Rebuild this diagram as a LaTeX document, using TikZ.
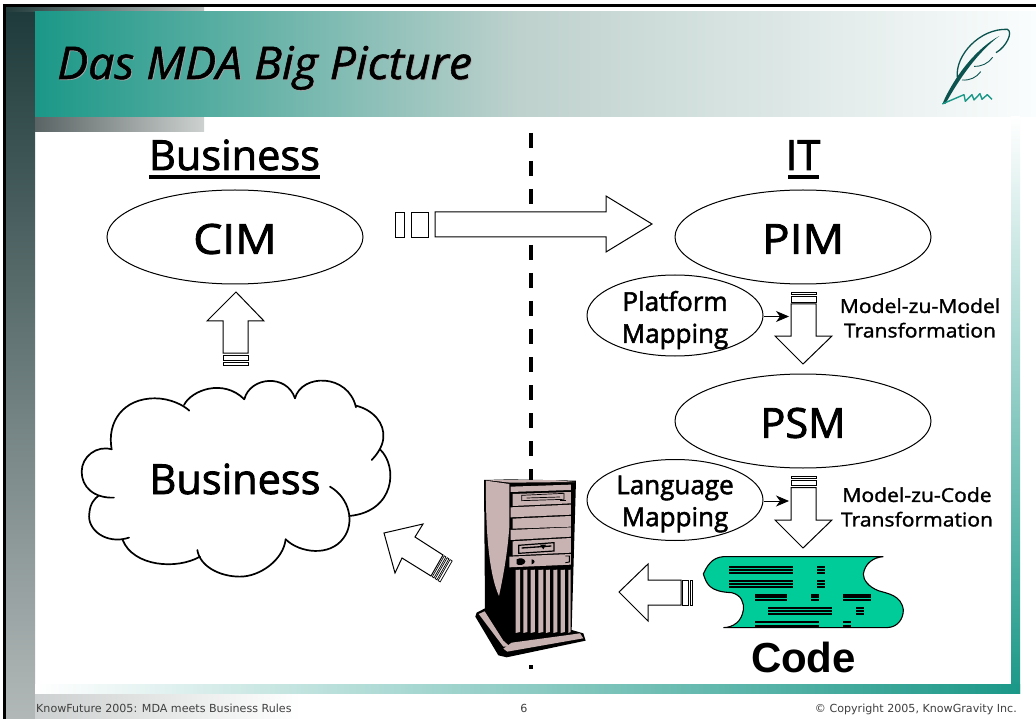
\documentclass[tikz,border=0pt]{standalone}
\usepackage{fontspec}
\usetikzlibrary{arrows.meta,calc,shapes.geometric}
\setmainfont{Liberation Sans}
\newfontfamily\lucida[FakeBold=1.2,FakeStretch=1.03]{Open Sans}
\newfontfamily\lucidab[FakeBold=2]{Open Sans}
\newfontfamily\lucidaw[FakeBold=2,FakeStretch=1.11]{Open Sans}
\newfontfamily\lucidam[FakeBold=1.5,FakeStretch=1.1]{Open Sans}
\newfontfamily\foot{DejaVu Sans}
\definecolor{teal1}{RGB}{27,152,136}
\definecolor{pinkish}{RGB}{201,178,178}
\definecolor{codegreen}{RGB}{0,204,153}
\definecolor{quill}{RGB}{12,82,78}
\tikzset{
  x=1pt,y=-1pt,
  blockarrow/.style={draw=black,fill=white,line width=1pt,line join=miter},
  stripe/.style={draw=black,fill=white,line width=.9pt},
  oval/.style={ellipse,draw=black,fill=white,line width=1pt,inner sep=0pt,minimum width=#1},
  oval/.default=256pt,
  bigoval/.style={oval=256pt,minimum height=94pt},
  smalloval/.style={oval=176pt,minimum height=81pt},
  bigtext/.style={font=\lucidab\fontsize{41.5}{41.5}\selectfont,inner sep=0pt},
  widetext/.style={font=\lucidaw\fontsize{41.5}{41.5}\selectfont,inner sep=0pt},
  midtext/.style={font=\lucidab\fontsize{26}{32}\selectfont,inner sep=0pt,align=center},
  transtext/.style={font=\lucidam\fontsize{19.2}{24.5}\selectfont,inner sep=0pt,align=center},
  foottext/.style={font=\foot\fontsize{11.1}{12}\selectfont,text=black!75,inner sep=0pt},
  cloudline/.style={line width=1.7pt,line cap=round},
  smallarrow/.style={line width=.8pt,-{Stealth[length=13pt,width=11pt,inset=4pt]}},
  serverpink/.style={fill=pinkish,draw=none},
  codebar/.style={line width=2pt,black}
}
\begin{document}
\begin{tikzpicture}
\useasboundingbox (0,0) rectangle (1036,719);
\fill[white] (0,0) rectangle (1036,719);
% left bar
\shade[top color={rgb,255:red,30;green,58;blue,58},bottom color={rgb,255:red,178;green,184;blue,184}] (6,7) rectangle (35,719);
% top strip and lower strip
\shade[left color={rgb,255:red,35;green,60;blue,60},right color={rgb,255:red,190;green,196;blue,194}] (6,7) rectangle (204,12);
\shade[left color={rgb,255:red,90;green,100;blue,100},right color={rgb,255:red,205;green,210;blue,208}] (35,117) rectangle (204,132);
% footer
\shade[left color={rgb,255:red,205;green,208;blue,208},right color=white] (35,693) rectangle (300,719);
% header in two parts
\shade[left color=teal1,right color={rgb,255:red,190;green,209;blue,205}] (35,12) rectangle (520,117);
\shade[left color={rgb,255:red,190;green,209;blue,205},right color={rgb,255:red,250;green,253;blue,253}] (520,12) rectangle (1036,117);
% right and bottom bars
\shade[top color=white,bottom color=teal1] (1011,117) rectangle (1020,693);
\shade[left color=white,right color=teal1] (35,684) rectangle (1020,693);
% black lines
\fill[black] (3,4) rectangle (1036,7);
\fill[black] (3,4) rectangle (6,719);
% title
\node[font=\lucida\itshape\fontsize{45}{45}\selectfont,text=black!35,anchor=base west,inner sep=0pt] (titleshadow) at (57.8,79.8) {Das MDA Big Picture};
\node[font=\lucida\itshape\fontsize{45}{45}\selectfont,anchor=base west,inner sep=0pt] (title) at (57,79) {Das MDA Big Picture};
% quill
\begin{scope}[shift={(900,0)},x=.3333pt,y=-.3333pt]
\fill[quill] (127,312) .. controls (165,225) and (230,145) .. (298,108) .. controls (235,155) and (178,235) .. (136,312) -- cycle;
\draw[quill,line width=1.3pt] (172,232) .. controls (165,165) and (240,85) .. (322,88) .. controls (340,95) and (320,140) .. (288,158);
\draw[quill,line width=.9pt] (222,199) .. controls (245,200) and (265,190) .. (278,172);
\draw[quill,line width=.9pt] (186,240) .. controls (210,242) and (230,232) .. (242,215);
\draw[teal1,line width=1.4pt,line join=round] (127,312) -- (192,284) -- (196,304) -- (216,284) -- (222,300) -- (240,281) -- (246,298) -- (262,284) -- (276,298);
\end{scope}
% divider
\draw[black,line width=3.6pt,dash pattern=on 15pt off 13pt] (531,133) -- (531,669);
% headings
\node[bigtext,anchor=base] (bizhead) at (234.5,170) {Business};
\fill[black] (149,175) rectangle (320,179);
\node[bigtext,anchor=base] (ithead) at (803,170) {IT};
\fill[black] (788,175) rectangle (819,179);
% ellipses
\node[bigoval] (cim) at (235,237) {};
\node[widetext] (cimt) at (235,239) {CIM};
\node[bigoval] (pim) at (803,237) {};
\node[widetext] (pimt) at (803,239) {PIM};
\node[bigoval] (psm) at (803,421) {};
\node[bigtext] (psmt) at (803,423) {PSM};
\node[smalloval] (plat) at (675,315.5) {};
\node[midtext] (platt) at (675,320) {Platform\\Mapping};
\node[smalloval] (lang) at (675,500) {};
\node[midtext] (langt) at (675,504) {Language\\Mapping};
% transformation labels
\node[transtext] (m2m) at (920,318) {Model-zu-Model\\Transformation};
\node[transtext] (m2c) at (917,507) {Model-zu-Code\\Transformation};
% small arrows
\coordinate (platend) at (789,316.5);
\coordinate (langend) at (789,501);
\draw[smallarrow] (plat.east |- platend) -- (platend);
\draw[smallarrow] (lang.east |- langend) -- (langend);
% big right arrow
\draw[stripe] (395,212) rectangle (404,237);
\draw[stripe] (411,212) rectangle (428,237);
\draw[blockarrow] (435,212) -- (606,212) -- (606,196) -- (652,224) -- (606,252) -- (606,237) -- (435,237) -- cycle;
% up arrow
\draw[blockarrow] (223,353) -- (223,321) -- (207,321) -- (236,292) -- (264,321) -- (248,321) -- (248,353) -- cycle;
\draw[stripe] (223,355) rectangle (248,360);
\draw[stripe] (223,362) rectangle (248,365);
% platform arrow
\draw[stripe] (791,292) rectangle (816,294.3);
\draw[stripe] (791,296) rectangle (816,302);
\draw[blockarrow] (791,304) -- (791,336) -- (775,336) -- (803,364) -- (832,336) -- (816,336) -- (816,304) -- cycle;
% language arrow
\draw[stripe] (791,476) rectangle (816,478.3);
\draw[stripe] (791,480) rectangle (816,485.5);
\draw[blockarrow] (791,487.5) -- (791,520) -- (775,520) -- (803,548) -- (832,520) -- (816,520) -- (816,487.5) -- cycle;
% left arrow
\draw[blockarrow] (681,580) -- (648,580) -- (648,564) -- (619,592) -- (648,621) -- (648,605) -- (681,605) -- cycle;
\draw[stripe] (682.5,580) rectangle (688,605);
\draw[stripe] (690,580) rectangle (692.5,605);
% diagonal arrow
\draw[blockarrow] (443,555) -- (415,537) -- (423,524) -- (384,533) -- (395,573) -- (402,558) -- (431,576) -- cycle;
\draw[stripe,line width=.7pt] (444.3,555.8) -- (445.9,556.9) -- (433.9,577.9) -- (432.3,576.8) -- cycle;
\draw[stripe,line width=.7pt] (447.2,557.7) -- (448.9,558.8) -- (436.9,579.8) -- (435.2,578.7) -- cycle;
\draw[stripe,line width=.7pt] (450.1,559.6) -- (452.2,560.9) -- (440.2,581.9) -- (438.1,580.6) -- cycle;
% cloud
\begin{scope}[shift={(60,290)},x=.3333pt,y=-.3333pt]
\draw[cloudline] (155,478) .. controls (140,395) and (190,325) .. (285,325) .. controls (330,325) and (370,345) .. (388,362);
\draw[cloudline] (372,345) .. controls (395,300) and (490,265) .. (553,328);
\draw[cloudline] (553,328) .. controls (570,260) and (680,250) .. (705,325);
\draw[cloudline] (705,325) .. controls (725,250) and (865,250) .. (888,352);
\draw[cloudline] (888,347) .. controls (940,360) and (975,400) .. (970,445) .. controls (968,470) and (950,495) .. (935,510);
\draw[cloudline] (960,478) .. controls (1015,530) and (1005,665) .. (868,678);
\draw[cloudline] (810,590) .. controls (870,625) and (885,700) .. (850,745) .. controls (810,800) and (720,790) .. (677,748);
\draw[cloudline] (677,748) .. controls (670,810) and (600,860) .. (540,860) .. controls (480,860) and (420,830) .. (412,780);
\draw[cloudline] (420,800) .. controls (350,840) and (220,830) .. (188,750);
\draw[cloudline] (207,743) .. controls (140,765) and (80,720) .. (88,670) .. controls (90,640) and (105,625) .. (115,618);
\draw[cloudline] (162,623) .. controls (100,625) and (65,590) .. (65,545) .. controls (65,500) and (110,465) .. (155,478);
\end{scope}
\node[bigtext] (cloudt) at (235,479) {Business};
% server
\begin{scope}[shift={(470,470)},x=.3333pt,y=-.3333pt]
\fill[black] (42,30) -- (120,28) -- (318,32) -- (305,480) -- (340,490) -- (347,512) -- (110,562) -- (85,556) -- (16,440) -- (20,428) -- (45,415) -- cycle;
\fill[pinkish] (48,32) -- (118,42) -- (118,170) .. controls (112,260) and (95,340) .. (87,378) .. controls (60,320) and (46,200) .. (48,32) -- cycle;
\fill[pinkish] (50,30) -- (120,38) -- (314,36) -- (250,30) -- cycle;
% front bands
\fill[serverpink] (122,50) -- (303,44) -- (303,60) -- (122,66) -- cycle;
\fill[serverpink] (128,72) -- (303,66) -- (303,100) -- (128,108) -- cycle;
\fill[serverpink] (122,112) -- (303,104) -- (303,134) -- (122,142) -- cycle;
\fill[serverpink] (128,146) -- (303,138) -- (303,170) -- (128,176) -- cycle;
\fill[serverpink] (122,180) -- (303,172) -- (303,200) -- (122,210) -- cycle;
\fill[serverpink] (128,214) -- (303,204) -- (303,248) -- (128,256) -- cycle;
\fill[serverpink] (118,260) -- (303,252) -- (303,284) -- (118,292) -- cycle;
\draw[black,line width=.7pt,fill=pinkish] (155,76) -- (282,70) -- (282,88) -- (155,92) -- cycle;
\draw[black,line width=.7pt] (170,84) -- (270,81);
\fill[black] (270,90) rectangle (288,93);
\draw[black,line width=1.2pt,fill=pinkish] (146,226) -- (252,218) -- (252,243) -- (146,250) -- cycle;
\fill[black] (155,232) -- (244,226) -- (244,230) -- (155,236) -- cycle;
\fill[black] (210,224) -- (228,224) -- (220,238) -- cycle;
\fill[black] (140,268) .. controls (150,262) and (165,265) .. (166,275) .. controls (165,286) and (145,288) .. (140,282) -- cycle;
\fill[black] (185,268) .. controls (195,268) and (198,280) .. (185,283) -- cycle;
\draw[black,line width=.9pt] (286,258) -- (298,258) -- (298,276) -- (286,278);
% vents
\foreach \xa/\xb in {137/150,160/172,182/195,205/220,228/240,250/262,272/285,295/302}{
  \fill[pinkish] (\xa,300) -- (\xb,299) -- (\xb,486) -- (\xa,489) -- cycle;
}
% plinth
\fill[pinkish] (125,518) -- (302,494) -- (330,490) -- (340,505) -- (112,545) -- (100,536) -- cycle;
\fill[pinkish] (26,432) -- (44,424) -- (100,512) -- (120,530) -- (100,530) -- cycle;
\end{scope}
% code document
\begin{scope}[shift={(695,550)},x=.3333pt,y=-.3333pt]
\draw[black,fill=codegreen,line width=1.1pt] (565,20) -- (85,20) .. controls (50,22) and (35,50) .. (25,72) .. controls (35,100) and (40,125) .. (110,128) .. controls (140,135) and (148,160) .. (145,180) .. controls (140,215) and (115,232) .. (85,233) -- (575,233) .. controls (610,232) and (625,205) .. (625,180) .. controls (620,135) and (575,130) .. (550,122) .. controls (520,110) and (505,90) .. (505,72) .. controls (510,40) and (535,22) .. (565,20);
\foreach \ya/\xa/\xb in {51/103/295,60/103/295,69/103/295,51/367/390,60/367/390,69/367/390,
  93/103/295,101.5/103/295,110/103/295,93/367/390,101.5/367/390,110/367/390,
  134/180/276,142.5/180/276,151/180/276,134/349/372,142.5/349/372,151/349/372,134/444/528,142.5/444/528,151/444/528,
  174/219/411,182.5/219/411,191/219/411,174/483/507,182.5/483/507,191/483/507,
  216/180/372,228/180/372,216/444/468,228/444/468}{
  \draw[codebar] (\xa,\ya) -- (\xb,\ya);
}
\end{scope}
\node[font=\bfseries\fontsize{42}{42}\selectfont,anchor=base,inner sep=0pt] (codet) at (803.5,672) {Code};
% footer
\node[foottext,anchor=base west] (footl) at (36,712) {KnowFuture 2005: MDA meets Business Rules};
\node[foottext,anchor=base] (footc) at (524,712) {6};
\node[foottext,anchor=base east] (footr) at (1017,712) {© Copyright 2005, KnowGravity Inc.};
\end{tikzpicture}
\end{document}
